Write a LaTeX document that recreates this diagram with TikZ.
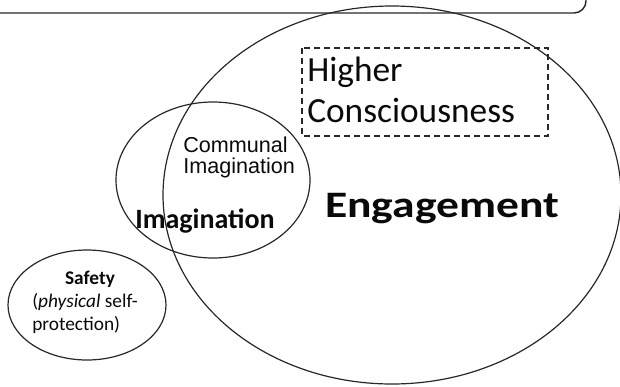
\documentclass[tikz,border=0pt]{standalone}
\usepackage{fontspec}
\setmainfont{Carlito}
\newfontfamily\arialfont{Liberation Sans}
\usepackage{graphicx}
\usetikzlibrary{positioning}

\tikzset{
  venn/.style={draw={rgb,255:red,40;green,40;blue,40}, line width=0.9pt},
  label text/.style={inner sep=0pt, text={rgb,255:red,10;green,10;blue,10}},
}

\begin{document}
\begin{tikzpicture}[x=0.75pt,y=0.75pt,yscale=-1,xscale=1]
\useasboundingbox (0,0) rectangle (620,386);
\clip (0,0) rectangle (620,386);

%Rounded Rect (top banner, cut off)
\draw [venn, line width=1.1pt, rounded corners=9pt] (-10,13) -- (586,13) -- (586,-40) ;

%Shape: Ellipse (Engagement)
\draw [venn] (392,195) ellipse [x radius=229, y radius=189] ;
%Shape: Ellipse (Imagination)
\draw [venn] (213,180) ellipse [x radius=97, y radius=78] ;
%Shape: Ellipse (Safety)
\draw [venn] (87,305) ellipse [x radius=79, y radius=55] ;

%Dashed box (Higher Consciousness)
\draw [venn, line width=0.8pt, dash pattern={on 4.5pt off 3pt}] (302,48) rectangle (548,136) ;

% Text Node
\node (higher) [label text, anchor=base west, align=left, font=\fontsize{26.5}{30.75}\selectfont] at (307,122) {Higher\\Consciousness};
% Text Node
\node (engage) [label text, anchor=base, font=\fontsize{28}{34}\selectfont\bfseries] at (442,217) {\scalebox{1.22}[1]{Engagement}};
% Text Node
\node (commimag) [label text, anchor=base west, align=left, font=\arialfont\fontsize{16.2}{15.75}\selectfont] at (183,173) {Communal\\Imagination};
% Text Node
\node (imag) [label text, anchor=base, font=\fontsize{21}{24}\selectfont\bfseries] at (205,228) {Imagination};
% Text Node
\node (safety) [label text, anchor=base, font=\fontsize{14.5}{17}\selectfont\bfseries] at (90,284) {Safety};
% Text Node
\node (safetytxt) [label text, anchor=base west, align=left, font=\fontsize{14.5}{17.25}\selectfont] at (32,330) {(\textit{physical} self-\\protection)};

\end{tikzpicture}
\end{document}
